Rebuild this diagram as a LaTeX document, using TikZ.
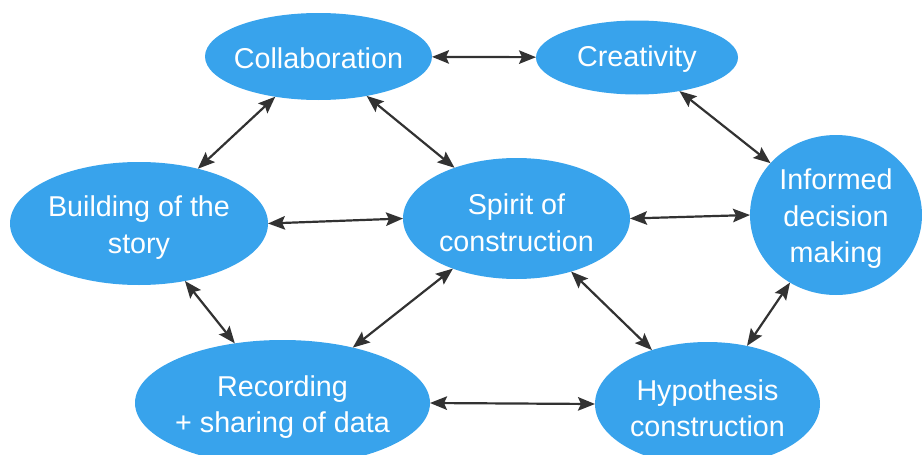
\documentclass[tikz,border=0pt]{standalone}
\usepackage{fontspec}
\setmainfont{Liberation Sans}
\usetikzlibrary{shapes.geometric,arrows.meta}
\definecolor{bubbleblue}{RGB}{56,163,236}
\definecolor{linkgray}{RGB}{50,50,50}
\tikzset{
  bubble/.style={ellipse, fill=bubbleblue, draw=none, inner sep=0pt, outer sep=0pt},
  bubbletext/.style={text=white, align=center, inner sep=0pt, yshift=-4pt,
    font=\fontsize{28.7}{36.5}\selectfont},
  tip/.tip={Stealth[length=17pt,width=13.5pt,inset=3pt]},
  link/.style={draw=linkgray, line width=2.2pt, tip-tip}
}
\begin{document}
\begin{tikzpicture}[x=1pt,y=-1pt]
\useasboundingbox (0,0) rectangle (922,455);
\clip (0,0) rectangle (922,455);
% ellipses
\node[bubble, minimum width=227, minimum height=87] (collab) at (318.5,56.5) {};
\node[bubble, minimum width=202, minimum height=74] (creat) at (637,57.5) {};
\node[bubble, minimum width=258, minimum height=123] (build) at (139,223.5) {};
\node[bubble, minimum width=227, minimum height=121] (spirit) at (516.5,218.5) {};
\node[bubble, minimum width=172, minimum height=160] (inform) at (836,215) {};
\node[bubble, minimum width=295, minimum height=126] (record) at (282.5,403) {};
\node[bubble, minimum width=225, minimum height=124] (hypo) at (707.5,404) {};
% labels
\node[bubbletext, yshift=2pt] (collabT) at (collab) {Collaboration};
\node[bubbletext, yshift=2pt] (creatT) at (creat) {Creativity};
\node[bubbletext] (buildT) at (build) {Building of the\\story};
\node[bubbletext] (spiritT) at (spirit) {Spirit of\\construction};
\node[bubbletext] (informT) at (inform) {Informed\\decision\\making};
\node[bubbletext] (recordT) at (record) {Recording\\+ sharing of data};
\node[bubbletext] (hypoT) at (hypo) {Hypothesis\\construction};
% connectors
\draw[link] (collab) -- (creat);
\draw[link] (collab) -- (build);
\draw[link] (collab) -- (spirit);
\draw[link] (build.east) -- (spirit.west);
\draw[link] (creat) -- (inform);
\draw[link] (spirit.east) -- (inform.west);
\draw[link] (build) -- (record);
\draw[link] (spirit) -- (record);
\draw[link] (record.east) -- (hypo.west);
\draw[link] (spirit) -- (hypo);
\draw[link] (inform) -- (hypo);
\end{tikzpicture}
\end{document}
